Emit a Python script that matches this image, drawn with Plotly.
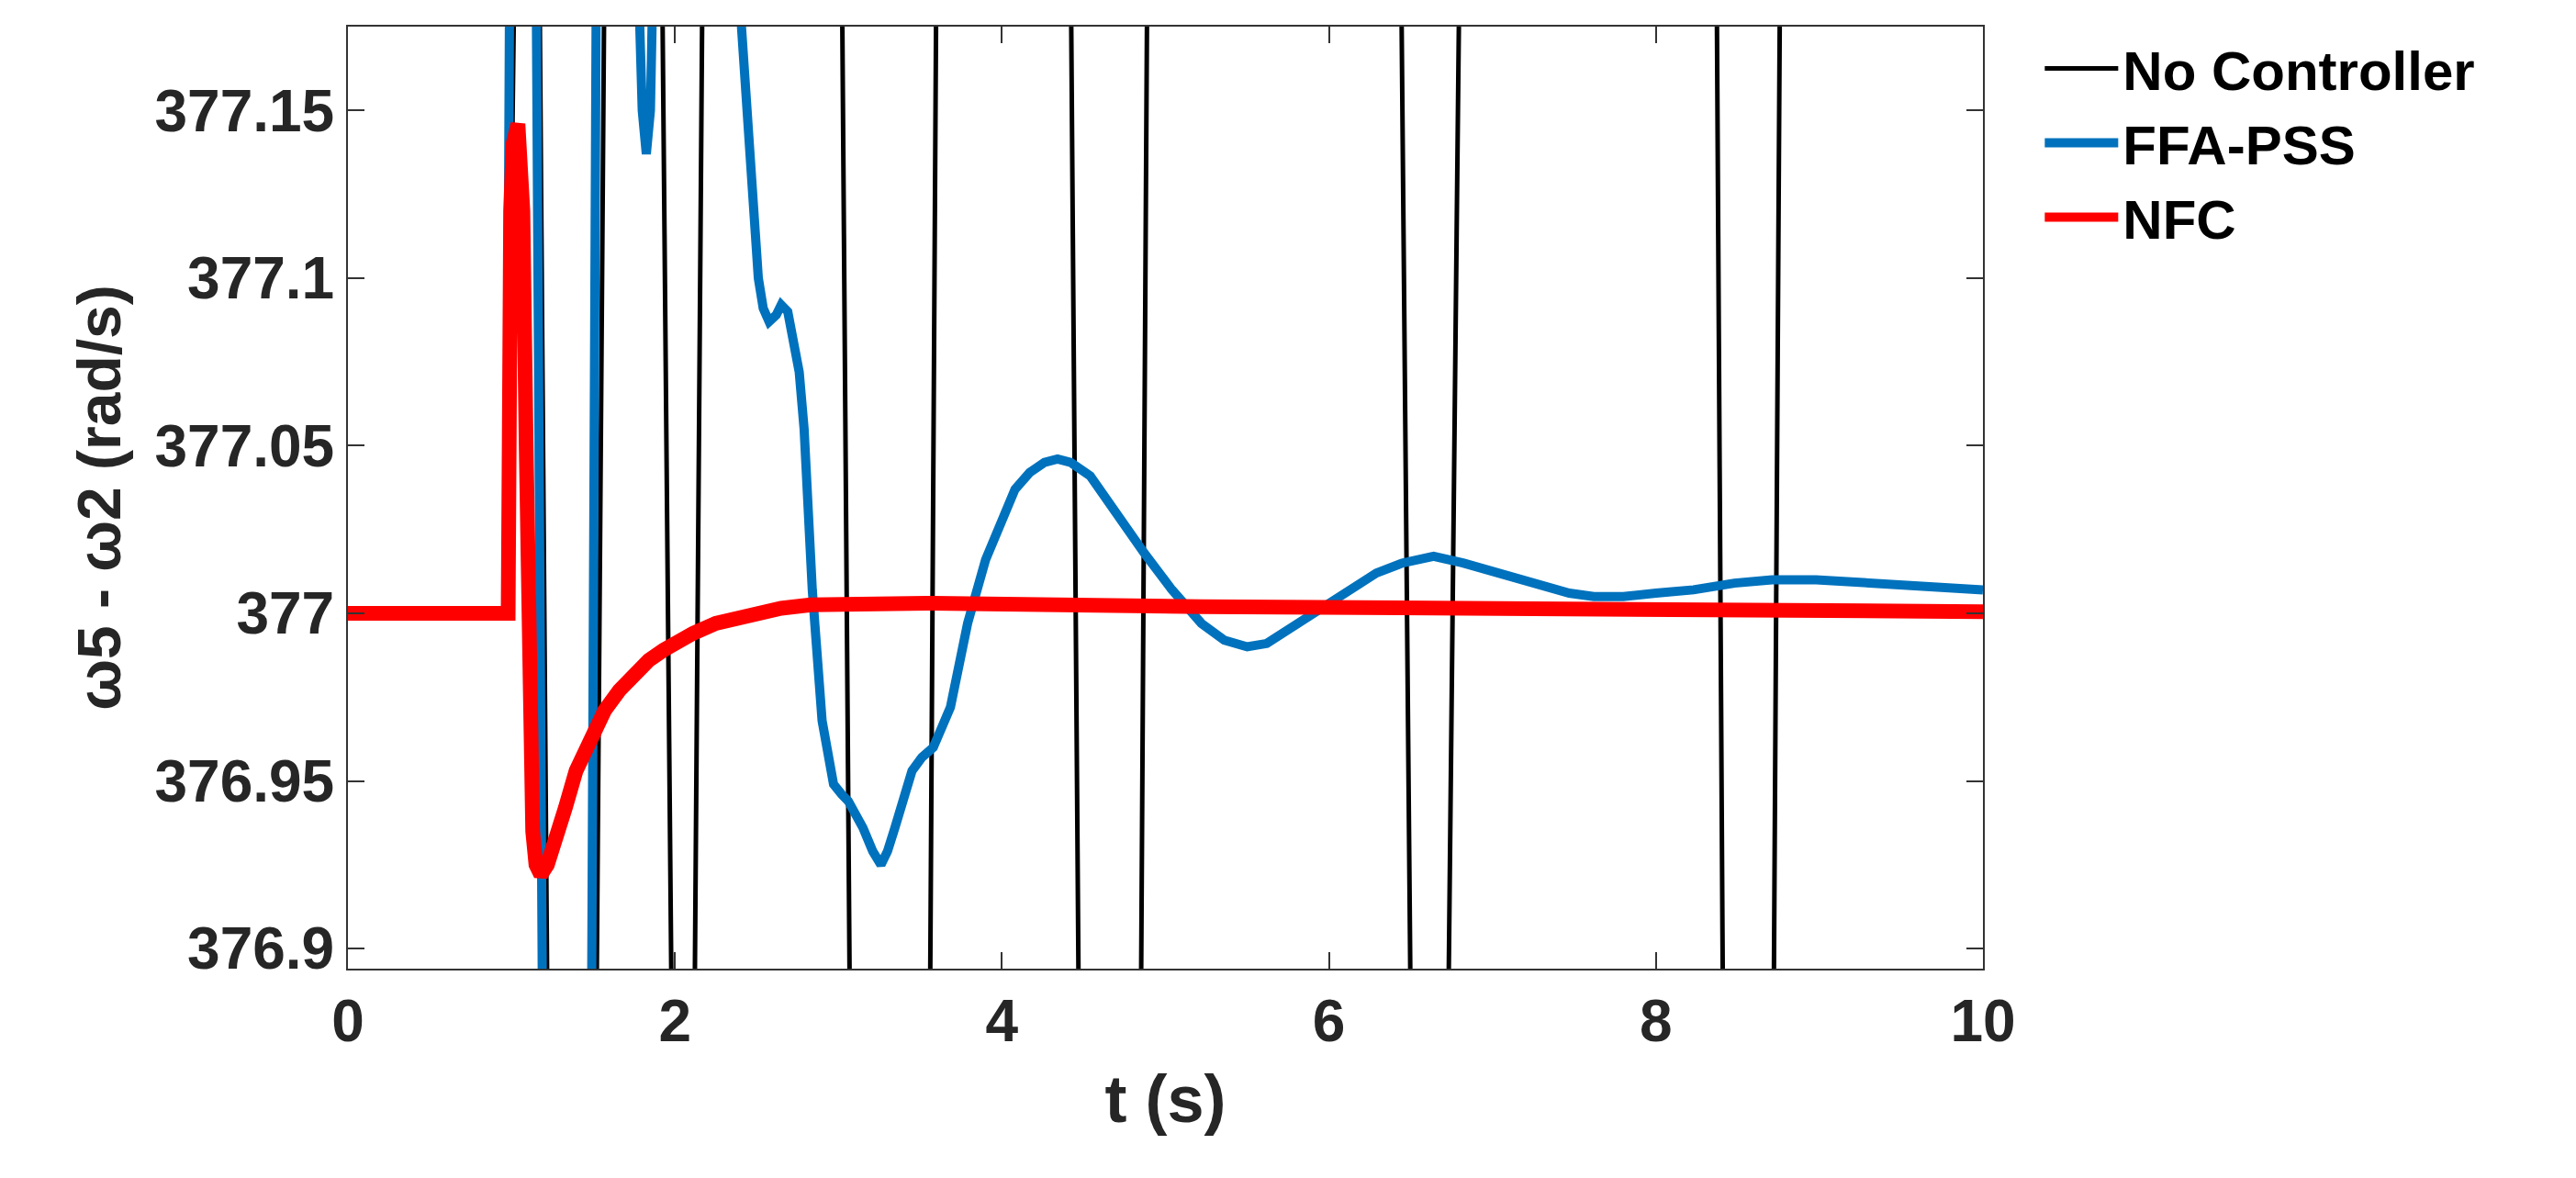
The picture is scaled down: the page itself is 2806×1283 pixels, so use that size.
import plotly.graph_objects as go

# No Controller: large oscillation, values beyond the visible window
nc_t = [0, 0.97, 1.02, 1.17, 1.22, 1.52, 1.57, 1.92, 1.98, 2.12, 2.17, 3.02, 3.07, 3.56, 3.60, 4.42, 4.47, 4.85, 4.89,
        6.44, 6.50, 6.73, 6.80, 8.37, 8.41, 8.72, 8.76, 10]
nc_v = [377, 377, 377.2, 377.2, 376.88, 376.88, 377.2, 377.2, 376.88, 376.88, 377.2, 377.2, 376.88, 376.88, 377.2,
        377.2, 376.88, 376.88, 377.2, 377.2, 376.88, 376.88, 377.2, 377.2, 376.88, 376.88, 377.2, 377.2]

ffa_t = [0, 0.97, 0.99, 1.15, 1.19, 1.49, 1.52, 1.77, 1.80, 1.825, 1.85, 1.87, 2.40, 2.44, 2.47, 2.51, 2.54, 2.576,
         2.62, 2.65, 2.69, 2.72, 2.76, 2.79, 2.84, 2.90, 2.94, 2.97, 3.02, 3.06, 3.15, 3.21, 3.26, 3.30, 3.345, 3.40,
         3.45, 3.51, 3.58, 3.685, 3.79, 3.90, 4.0, 4.08, 4.17, 4.26, 4.34, 4.42, 4.54, 4.69, 4.87, 5.04, 5.22, 5.36,
         5.50, 5.62, 5.75, 6.0, 6.15, 6.29, 6.45, 6.64, 6.82, 7.09, 7.30, 7.47, 7.62, 7.80, 8.0, 8.23, 8.48, 8.71,
         8.98, 9.41, 10]
ffa_v = [377, 377, 377.2, 377.2, 376.88, 376.88, 377.2, 377.2, 377.15, 377.137, 377.15, 377.2, 377.18, 377.15,
         377.122, 377.10, 377.091, 377.087, 377.089, 377.092, 377.090, 377.083, 377.072, 377.055, 377.007, 376.968,
         376.955, 376.949, 376.946, 376.944, 376.936, 376.929, 376.925, 376.929, 376.936, 376.946, 376.953,
         376.957, 376.960, 376.972, 376.997, 377.016, 377.028, 377.037, 377.042, 377.045, 377.046, 377.045,
         377.041, 377.030, 377.018, 377.007, 376.997, 376.992, 376.990, 376.991, 376.995, 377.003, 377.008,
         377.012, 377.015, 377.017, 377.015, 377.011, 377.008, 377.006, 377.005, 377.005, 377.006, 377.007,
         377.009, 377.010, 377.010, 377.009, 377.007]

nfc_t = [0, 0.98, 0.995, 1.01, 1.04, 1.07, 1.09, 1.11, 1.13, 1.15, 1.18, 1.22, 1.27, 1.33, 1.395, 1.48, 1.57, 1.66,
         1.75, 1.84, 1.93, 2.02, 2.11, 2.25, 2.47, 2.65, 2.83, 3.2, 3.54, 5.22, 10]
nfc_v = [377, 377, 377.12, 377.14, 377.146, 377.12, 377.05, 376.97, 376.935, 376.925, 376.922, 376.925, 376.932,
         376.942, 376.953, 376.963, 376.971, 376.977, 376.982, 376.986, 376.989, 376.992, 376.994, 376.997,
         377.0, 377.0015, 377.0025, 377.003, 377.003, 377.002, 377.0005]

y_ticks = [376.9, 376.95, 377, 377.05, 377.1, 377.15]
y_labels = ["376.9", "376.95", "377", "377.05", "377.1", "377.15"]
x_ticks = [0, 2, 4, 6, 8, 10]

fig = go.Figure()
fig.add_trace(go.Scatter(x=nc_t, y=nc_v, mode="lines", name="No Controller", line=dict(color="black", width=5)))
fig.add_trace(go.Scatter(x=ffa_t, y=ffa_v, mode="lines", name="FFA-PSS",
                         line=dict(color="#0072BD", width=10)))
fig.add_trace(go.Scatter(x=nfc_t, y=nfc_v, mode="lines", name="NFC",
                         line=dict(color="#FF0000", width=16)))

axis_common = dict(showline=True, linecolor="#333", linewidth=2, mirror="ticks", ticks="inside", ticklen=18,
                   tickwidth=2, tickcolor="#333", showgrid=False, zeroline=False,
                   tickfont=dict(family="Liberation Sans", size=64, color="#262626"))
fig.update_xaxes(range=[0, 10], tickvals=x_ticks, ticktext=[f"<b>{v}</b>" for v in x_ticks],
                 title=dict(text="<b>t (s)</b>", font=dict(family="Liberation Sans", size=72, color="#262626"), standoff=25),
                 **axis_common)
fig.update_yaxes(range=[376.894, 377.175], tickvals=y_ticks, ticktext=[f"<b>{s}</b>" for s in y_labels],
                 title=dict(text="<b>ω5 - ω2 (rad/s)</b>", font=dict(family="Liberation Sans", size=66, color="#262626"), standoff=15),
                 **axis_common)

fig.update_layout(width=2806, height=1283, plot_bgcolor="white", paper_bgcolor="white",
                  margin=dict(l=371, r=654, t=21, b=236),
                  legend=dict(x=1.035, y=1.0, xanchor="left", yanchor="top",
                              font=dict(family="Liberation Sans", size=60, color="black"),
                              itemwidth=80, tracegroupgap=0))
fig.for_each_trace(lambda tr: tr.update(name=f"<b>{tr.name}</b>"))
fig.write_html("out.html")
